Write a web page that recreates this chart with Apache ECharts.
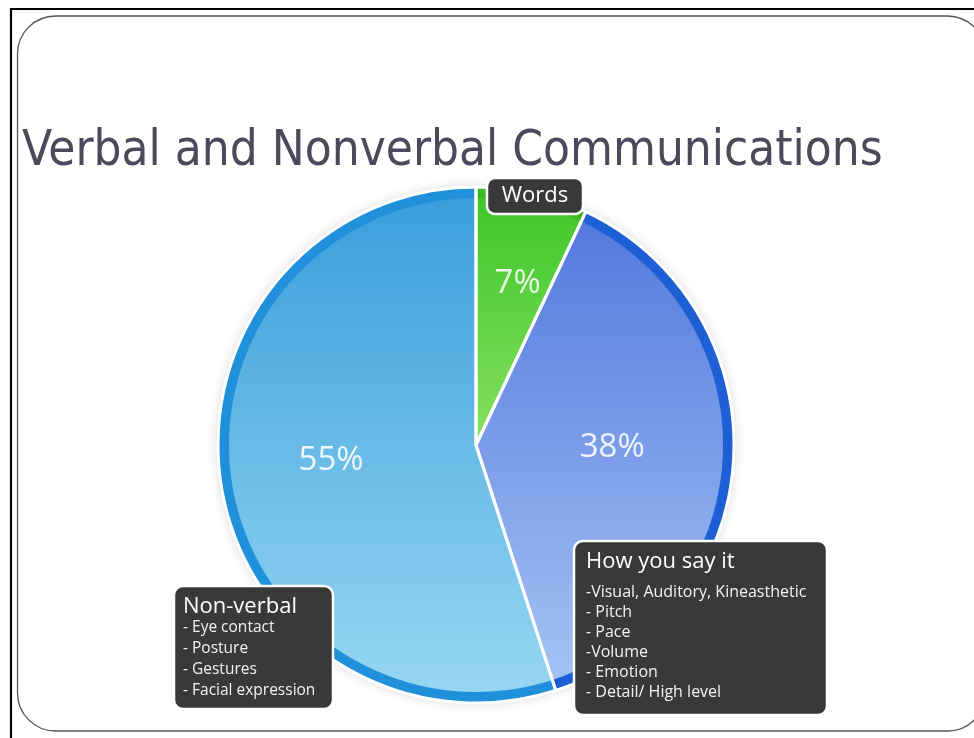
<!DOCTYPE html>
<html><head><meta charset="utf-8">
<script src="https://cdn.jsdelivr.net/npm/echarts@6/dist/echarts.min.js"></script>
<style>html,body{margin:0;padding:0;background:#fff}#c{width:974px;height:738px}</style>
</head><body><div id="c"></div>
<script>
const titleText = 'Verbal and Nonverbal Communications';
const categories = ['Words', 'How you say it', 'Non-verbal'];
const values = [7, 38, 55];
const nonVerbalItems = ['- Eye contact', '- Posture', '- Gestures', '- Facial expression'];
const howItems = ['-Visual, Auditory, Kineasthetic', '- Pitch', '- Pace', '-Volume', '- Emotion', '- Detail/ High level'];

const rimColors = ['#3cbf22', '#1f5fd6', '#2190da'];
const fillTop = ['#3fc62a', '#5479de', '#3a9edc'];
const fillBottom = ['#86e060', '#a3c2f3', '#96d6f2'];
const labelOffsets = [[14, -38], [10, -5], [-20, -4]];

const center = [476, 445];
const R = 258, Rin = 247;

const chart = echarts.init(document.getElementById('c'), null, {renderer: 'canvas'});

function boxElements(x, y, w, h, titleStr, items, tx, ty, itemTop, itemSize, lh) {
  return [{
    type: 'rect', z: 100, shape: {x: x, y: y, width: w, height: h, r: 9},
    style: {fill: '#3a3939', stroke: '#ffffff', lineWidth: 2.5}
  }, {
    type: 'text', z: 101, x: tx, y: ty,
    style: {text: titleStr, fill: '#ffffff', font: '22px "Open Sans"', verticalAlign: 'middle', align: 'left'}
  }, {
    type: 'text', z: 101, x: tx, y: itemTop,
    style: {text: items.join('\n'), fill: '#f2f2f2', font: itemSize + 'px "Open Sans"', lineHeight: lh, verticalAlign: 'top', align: 'left'}
  }];
}

const option = {
  backgroundColor: '#ffffff',
  animation: false,
  graphic: [
    {type: 'rect', z: 0, shape: {x: 11, y: 9, width: 1000, height: 1000}, style: {fill: 'none', stroke: '#000', lineWidth: 2.2}},
    {type: 'rect', z: 0, shape: {x: 17.5, y: 16, width: 968, height: 715, r: 38}, style: {fill: 'none', stroke: '#555', lineWidth: 1.3}},
    {type: 'text', z: 10, x: 22, y: 152, style: {text: titleText, fill: '#4a4a5a', font: '49px "DejaVu Sans Condensed"', verticalAlign: 'middle'}},
    {type: 'rect', z: 100, shape: {x: 487, y: 178, width: 96, height: 36, r: 8}, style: {fill: '#3a3939', stroke: '#fff', lineWidth: 2.5}},
    {type: 'text', z: 101, x: 535, y: 196, style: {text: categories[0], fill: '#fff', font: '22px "Open Sans"', align: 'center', verticalAlign: 'middle'}}
  ].concat(
    boxElements(174, 586, 159, 123, categories[2], nonVerbalItems, 183, 607, 617, 15.5, 21),
    boxElements(574, 541, 253, 174, categories[1], howItems, 586, 562, 582, 16, 20.1)
  ),
  series: [
    {
      type: 'pie', z: 1, center: center, radius: [0, R], startAngle: 90, clockwise: true, silent: true,
      label: {show: false}, labelLine: {show: false},
      itemStyle: {shadowBlur: 12, shadowColor: 'rgba(0,0,0,0.18)'},
      data: categories.map((c, i) => ({name: c, value: values[i], itemStyle: {color: rimColors[i]}}))
    },
    {
      type: 'pie', z: 2, center: center, radius: [0, Rin], startAngle: 90, clockwise: true, silent: true,
      labelLine: {show: false},
      label: {show: true, position: 'inside', formatter: '{c}%', color: 'rgba(255,255,255,0.88)', fontSize: 33, fontFamily: 'Open Sans'},
      data: categories.map((c, i) => ({
        name: c, value: values[i],
        label: {offset: labelOffsets[i]},
        itemStyle: {color: {type: 'linear', x: 0, y: 0, x2: 0, y2: 1, colorStops: [{offset: 0, color: fillTop[i]}, {offset: 1, color: fillBottom[i]}]}}
      }))
    },
    {
      type: 'pie', z: 3, center: center, radius: [0, R], startAngle: 90, clockwise: true, silent: true,
      label: {show: false}, labelLine: {show: false},
      itemStyle: {color: 'rgba(0,0,0,0)', borderColor: '#ffffff', borderWidth: 3},
      data: categories.map((c, i) => ({name: c, value: values[i]}))
    }
  ]
};
chart.setOption(option);
</script>
</body></html>
